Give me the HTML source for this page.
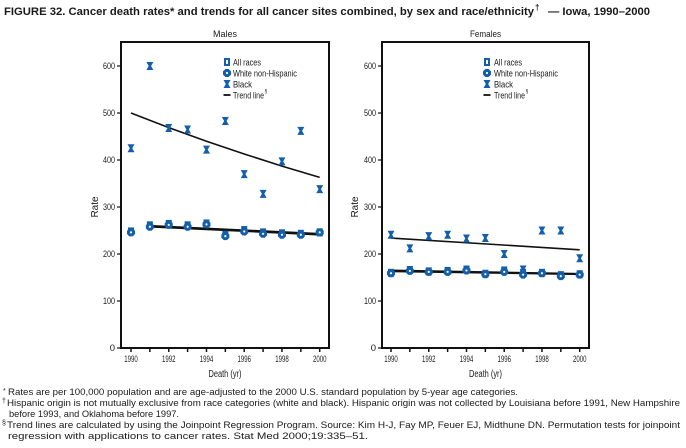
<!DOCTYPE html>
<html>
<head>
<meta charset="utf-8">
<style>
  html,body{margin:0;padding:0;background:#fff;}
  svg{display:block;}
  text{font-family:"Liberation Sans",Arial,sans-serif;fill:#1a1a1a;}
</style>
</head>
<body>
<svg width="686" height="448" viewBox="0 0 686 448" xmlns="http://www.w3.org/2000/svg">
  <defs>
    <g id="mAll">
      <rect x="-3" y="-4" width="6" height="8" fill="#135fa9"/>
      <rect x="-1" y="-2" width="2" height="4" fill="#fff"/>
    </g>
    <g id="mWhite">
      <polygon points="-1.6,-4 1.6,-4 4,-1.6 4,1.6 1.6,4 -1.6,4 -4,1.6 -4,-1.6" fill="#135fa9"/>
      <circle cx="0" cy="0" r="1.1" fill="#fff"/>
    </g>
    <g id="mBlack">
      <path d="M-3.5,-4 H3.5 L1.2,0 L3.5,4 H-3.5 L-1.2,0 Z" fill="#135fa9"/>
    </g>
  </defs>

  <!-- Title -->
  <text x="4" y="15" font-size="11" font-weight="bold" textLength="530" lengthAdjust="spacingAndGlyphs">FIGURE 32. Cancer death rates* and trends for all cancer sites combined, by sex and race/ethnicity</text>
  <text x="535" y="10" font-size="8" font-weight="bold">†</text>
  <text x="548" y="15" font-size="11" font-weight="bold" textLength="102" lengthAdjust="spacingAndGlyphs">— Iowa, 1990–2000</text>

  <!-- ============ LEFT CHART (Males) ============ -->
  <text x="225" y="37" font-size="9.5" text-anchor="middle" textLength="24" lengthAdjust="spacingAndGlyphs">Males</text>
  <rect x="121" y="42" width="208" height="306" fill="none" stroke="#111" stroke-width="2"/>
  <g stroke="#111" stroke-width="1.2">
    <line x1="117" y1="348" x2="121" y2="348"/>
    <line x1="117" y1="301" x2="121" y2="301"/>
    <line x1="117" y1="254" x2="121" y2="254"/>
    <line x1="117" y1="207" x2="121" y2="207"/>
    <line x1="117" y1="160" x2="121" y2="160"/>
    <line x1="117" y1="113" x2="121" y2="113"/>
    <line x1="117" y1="66" x2="121" y2="66"/>
  </g>
  <g font-size="9.5" text-anchor="end">
    <text x="115" y="351">0</text>
    <text x="115" y="304" textLength="12" lengthAdjust="spacingAndGlyphs">100</text>
    <text x="115" y="257" textLength="12" lengthAdjust="spacingAndGlyphs">200</text>
    <text x="115" y="210" textLength="12" lengthAdjust="spacingAndGlyphs">300</text>
    <text x="115" y="163" textLength="12" lengthAdjust="spacingAndGlyphs">400</text>
    <text x="115" y="116" textLength="12" lengthAdjust="spacingAndGlyphs">500</text>
    <text x="115" y="69" textLength="12" lengthAdjust="spacingAndGlyphs">600</text>
  </g>
  <g stroke="#111" stroke-width="1.5">
    <line x1="131" y1="348" x2="131" y2="352"/>
    <line x1="149.87" y1="348" x2="149.87" y2="352"/>
    <line x1="168.74" y1="348" x2="168.74" y2="352"/>
    <line x1="187.61" y1="348" x2="187.61" y2="352"/>
    <line x1="206.48" y1="348" x2="206.48" y2="352"/>
    <line x1="225.35" y1="348" x2="225.35" y2="352"/>
    <line x1="244.22" y1="348" x2="244.22" y2="352"/>
    <line x1="263.09" y1="348" x2="263.09" y2="352"/>
    <line x1="281.96" y1="348" x2="281.96" y2="352"/>
    <line x1="300.83" y1="348" x2="300.83" y2="352"/>
    <line x1="319.7" y1="348" x2="319.7" y2="352"/>
  </g>
  <g font-size="9.5" text-anchor="middle">
    <text x="131" y="362" textLength="13.5" lengthAdjust="spacingAndGlyphs">1990</text>
    <text x="168.74" y="362" textLength="13.5" lengthAdjust="spacingAndGlyphs">1992</text>
    <text x="206.48" y="362" textLength="13.5" lengthAdjust="spacingAndGlyphs">1994</text>
    <text x="244.22" y="362" textLength="13.5" lengthAdjust="spacingAndGlyphs">1996</text>
    <text x="281.96" y="362" textLength="13.5" lengthAdjust="spacingAndGlyphs">1998</text>
    <text x="319.7" y="362" textLength="13.5" lengthAdjust="spacingAndGlyphs">2000</text>
  </g>
  <text x="225" y="377" font-size="10" text-anchor="middle" textLength="33" lengthAdjust="spacingAndGlyphs">Death (yr)</text>
  <text x="0" y="0" font-size="10.5" text-anchor="middle" transform="translate(98,207) rotate(-90)" textLength="21" lengthAdjust="spacingAndGlyphs">Rate</text>

  <!-- legend (left) -->
  <use href="#mAll" x="227" y="62"/>
  <use href="#mWhite" x="227" y="73"/>
  <use href="#mBlack" x="227" y="84"/>
  <line x1="223.5" y1="95" x2="230.5" y2="95" stroke="#111" stroke-width="1.8"/>
  <g font-size="9.5">
    <text x="233" y="65.5" textLength="28" lengthAdjust="spacingAndGlyphs">All races</text>
    <text x="233" y="76.5" textLength="64" lengthAdjust="spacingAndGlyphs">White non-Hispanic</text>
    <text x="233" y="87.5" textLength="19" lengthAdjust="spacingAndGlyphs">Black</text>
    <text x="233" y="98.5" textLength="31" lengthAdjust="spacingAndGlyphs">Trend line</text>
    <text x="264.5" y="93" font-size="5">§</text>
  </g>

  <!-- trend lines males -->
  <polyline points="131,113 168.74,127.6 206.48,141.2 244.22,154.0 281.96,166.1 319.7,177.4" fill="none" stroke="#111" stroke-width="1.6"/>
  <line x1="150" y1="225.8" x2="319.7" y2="233.8" stroke="#111" stroke-width="1.8"/>
  <line x1="150" y1="226.7" x2="319.7" y2="234.7" stroke="#111" stroke-width="1.8"/>

  <g>
    <use href="#mBlack" x="131" y="148.25"/>
    <use href="#mBlack" x="149.87" y="66"/>
    <use href="#mBlack" x="168.74" y="128.04"/>
    <use href="#mBlack" x="187.61" y="129.45"/>
    <use href="#mBlack" x="206.48" y="149.66"/>
    <use href="#mBlack" x="225.35" y="120.99"/>
    <use href="#mBlack" x="244.22" y="174.1"/>
    <use href="#mBlack" x="263.09" y="193.84"/>
    <use href="#mBlack" x="281.96" y="161.41"/>
    <use href="#mBlack" x="300.83" y="130.86"/>
    <use href="#mBlack" x="319.7" y="189.14"/>
  </g>
  <g>
    <use href="#mAll" x="131" y="231.44"/>
    <use href="#mAll" x="149.87" y="225.33"/>
    <use href="#mAll" x="168.74" y="223.92"/>
    <use href="#mAll" x="187.61" y="225.33"/>
    <use href="#mAll" x="206.48" y="223.45"/>
    <use href="#mAll" x="225.35" y="234.73"/>
    <use href="#mAll" x="244.22" y="230.03"/>
    <use href="#mAll" x="263.09" y="232.38"/>
    <use href="#mAll" x="281.96" y="233.32"/>
    <use href="#mAll" x="300.83" y="233.79"/>
    <use href="#mAll" x="319.7" y="232.38"/>
  </g>
  <g>
    <use href="#mWhite" x="131" y="232.38"/>
    <use href="#mWhite" x="149.87" y="226.74"/>
    <use href="#mWhite" x="168.74" y="224.86"/>
    <use href="#mWhite" x="187.61" y="226.74"/>
    <use href="#mWhite" x="206.48" y="224.39"/>
    <use href="#mWhite" x="225.35" y="236.14"/>
    <use href="#mWhite" x="244.22" y="231.44"/>
    <use href="#mWhite" x="263.09" y="233.79"/>
    <use href="#mWhite" x="281.96" y="234.73"/>
    <use href="#mWhite" x="300.83" y="234.73"/>
    <use href="#mWhite" x="319.7" y="232.38"/>
  </g>

  <!-- ============ RIGHT CHART (Females) ============ -->
  <text x="485.5" y="37" font-size="9.5" text-anchor="middle" textLength="31" lengthAdjust="spacingAndGlyphs">Females</text>
  <rect x="382" y="42" width="207" height="306" fill="none" stroke="#111" stroke-width="2"/>
  <g stroke="#111" stroke-width="1.2">
    <line x1="378" y1="348" x2="382" y2="348"/>
    <line x1="378" y1="301" x2="382" y2="301"/>
    <line x1="378" y1="254" x2="382" y2="254"/>
    <line x1="378" y1="207" x2="382" y2="207"/>
    <line x1="378" y1="160" x2="382" y2="160"/>
    <line x1="378" y1="113" x2="382" y2="113"/>
    <line x1="378" y1="66" x2="382" y2="66"/>
  </g>
  <g font-size="9.5" text-anchor="end">
    <text x="376" y="351">0</text>
    <text x="376" y="304" textLength="12" lengthAdjust="spacingAndGlyphs">100</text>
    <text x="376" y="257" textLength="12" lengthAdjust="spacingAndGlyphs">200</text>
    <text x="376" y="210" textLength="12" lengthAdjust="spacingAndGlyphs">300</text>
    <text x="376" y="163" textLength="12" lengthAdjust="spacingAndGlyphs">400</text>
    <text x="376" y="116" textLength="12" lengthAdjust="spacingAndGlyphs">500</text>
    <text x="376" y="69" textLength="12" lengthAdjust="spacingAndGlyphs">600</text>
  </g>
  <g stroke="#111" stroke-width="1.5">
    <line x1="391" y1="348" x2="391" y2="352"/>
    <line x1="409.87" y1="348" x2="409.87" y2="352"/>
    <line x1="428.74" y1="348" x2="428.74" y2="352"/>
    <line x1="447.61" y1="348" x2="447.61" y2="352"/>
    <line x1="466.48" y1="348" x2="466.48" y2="352"/>
    <line x1="485.35" y1="348" x2="485.35" y2="352"/>
    <line x1="504.22" y1="348" x2="504.22" y2="352"/>
    <line x1="523.09" y1="348" x2="523.09" y2="352"/>
    <line x1="541.96" y1="348" x2="541.96" y2="352"/>
    <line x1="560.83" y1="348" x2="560.83" y2="352"/>
    <line x1="579.7" y1="348" x2="579.7" y2="352"/>
  </g>
  <g font-size="9.5" text-anchor="middle">
    <text x="391" y="362" textLength="13.5" lengthAdjust="spacingAndGlyphs">1990</text>
    <text x="428.74" y="362" textLength="13.5" lengthAdjust="spacingAndGlyphs">1992</text>
    <text x="466.48" y="362" textLength="13.5" lengthAdjust="spacingAndGlyphs">1994</text>
    <text x="504.22" y="362" textLength="13.5" lengthAdjust="spacingAndGlyphs">1996</text>
    <text x="541.96" y="362" textLength="13.5" lengthAdjust="spacingAndGlyphs">1998</text>
    <text x="579.7" y="362" textLength="13.5" lengthAdjust="spacingAndGlyphs">2000</text>
  </g>
  <text x="485.5" y="377" font-size="10" text-anchor="middle" textLength="33" lengthAdjust="spacingAndGlyphs">Death (yr)</text>
  <text x="0" y="0" font-size="10.5" text-anchor="middle" transform="translate(358,207) rotate(-90)" textLength="21" lengthAdjust="spacingAndGlyphs">Rate</text>

  <!-- legend (right) -->
  <use href="#mAll" x="487" y="62"/>
  <use href="#mWhite" x="487" y="73"/>
  <use href="#mBlack" x="487" y="84"/>
  <line x1="483.5" y1="95" x2="490.5" y2="95" stroke="#111" stroke-width="1.8"/>
  <g font-size="9.5">
    <text x="494" y="65.5" textLength="28" lengthAdjust="spacingAndGlyphs">All races</text>
    <text x="494" y="76.5" textLength="64" lengthAdjust="spacingAndGlyphs">White non-Hispanic</text>
    <text x="494" y="87.5" textLength="19" lengthAdjust="spacingAndGlyphs">Black</text>
    <text x="494" y="98.5" textLength="31" lengthAdjust="spacingAndGlyphs">Trend line</text>
    <text x="525.5" y="93" font-size="5">§</text>
  </g>

  <!-- trend lines females -->
  <line x1="391" y1="238.02" x2="579.7" y2="249.77" stroke="#111" stroke-width="1.6"/>
  <line x1="391" y1="270.45" x2="579.7" y2="273.74" stroke="#111" stroke-width="1.8"/>
  <line x1="391" y1="271.39" x2="579.7" y2="274.21" stroke="#111" stroke-width="1.8"/>

  <g>
    <use href="#mBlack" x="391" y="234.73"/>
    <use href="#mBlack" x="409.87" y="248.36"/>
    <use href="#mBlack" x="428.74" y="236.14"/>
    <use href="#mBlack" x="447.61" y="234.73"/>
    <use href="#mBlack" x="466.48" y="238.49"/>
    <use href="#mBlack" x="485.35" y="238.02"/>
    <use href="#mBlack" x="504.22" y="254"/>
    <use href="#mBlack" x="523.09" y="269.51"/>
    <use href="#mBlack" x="541.96" y="230.5"/>
    <use href="#mBlack" x="560.83" y="230.5"/>
    <use href="#mBlack" x="579.7" y="258.23"/>
  </g>
  <g>
    <use href="#mAll" x="391" y="272.8"/>
    <use href="#mAll" x="409.87" y="269.98"/>
    <use href="#mAll" x="428.74" y="271.39"/>
    <use href="#mAll" x="447.61" y="270.92"/>
    <use href="#mAll" x="466.48" y="269.51"/>
    <use href="#mAll" x="485.35" y="273.74"/>
    <use href="#mAll" x="504.22" y="270.45"/>
    <use href="#mAll" x="523.09" y="272.8"/>
    <use href="#mAll" x="541.96" y="272.8"/>
    <use href="#mAll" x="560.83" y="275.15"/>
    <use href="#mAll" x="579.7" y="274.21"/>
  </g>
  <g>
    <use href="#mWhite" x="391" y="273.27"/>
    <use href="#mWhite" x="409.87" y="270.92"/>
    <use href="#mWhite" x="428.74" y="271.86"/>
    <use href="#mWhite" x="447.61" y="271.86"/>
    <use href="#mWhite" x="466.48" y="270.45"/>
    <use href="#mWhite" x="485.35" y="274.21"/>
    <use href="#mWhite" x="504.22" y="271.86"/>
    <use href="#mWhite" x="523.09" y="274.68"/>
    <use href="#mWhite" x="541.96" y="273.27"/>
    <use href="#mWhite" x="560.83" y="276.09"/>
    <use href="#mWhite" x="579.7" y="274.68"/>
  </g>

  <!-- ============ Footnotes ============ -->
  <g font-size="9.5">
    <text x="3" y="393" font-size="7">*</text>
    <text x="8" y="395" textLength="510" lengthAdjust="spacingAndGlyphs">Rates are per 100,000 population and are age-adjusted to the 2000 U.S. standard population by 5-year age categories.</text>
    <text x="2" y="403" font-size="7">†</text>
    <text x="7" y="406" textLength="673" lengthAdjust="spacingAndGlyphs">Hispanic origin is not mutually exclusive from race categories (white and black). Hispanic origin was not collected by Louisiana before 1991, New Hampshire</text>
    <text x="9" y="417" textLength="170" lengthAdjust="spacingAndGlyphs">before 1993, and Oklahoma before 1997.</text>
    <text x="2" y="425" font-size="7">§</text>
    <text x="7" y="428" textLength="673" lengthAdjust="spacingAndGlyphs">Trend lines are calculated by using the Joinpoint Regression Program. Source: Kim H-J, Fay MP, Feuer EJ, Midthune DN. Permutation tests for joinpoint</text>
    <text x="8" y="439" textLength="360" lengthAdjust="spacingAndGlyphs">regression with applications to cancer rates. Stat Med 2000;19:335–51.</text>
  </g>
</svg>
</body>
</html>
